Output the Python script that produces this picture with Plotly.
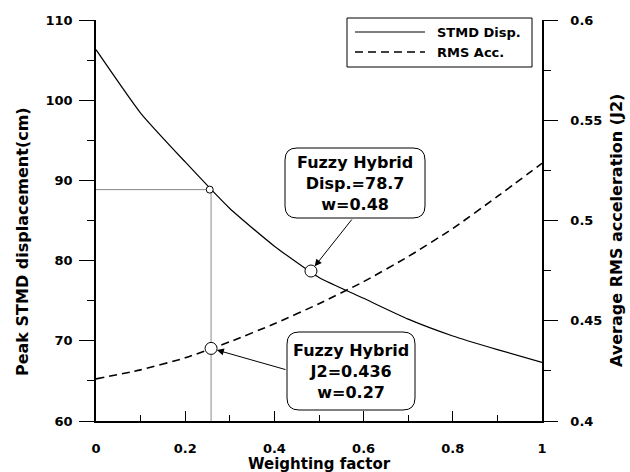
import plotly.graph_objects as go

# ---------------- data ----------------
weight = [0.0, 0.1, 0.2, 0.3, 0.4, 0.5, 0.6, 0.7, 0.8, 0.9, 1.0]
stmd_disp = [106.3, 98.4, 92.3, 86.5, 81.8, 77.9, 75.3, 72.7, 70.6, 68.9, 67.3]
rms_acc = [0.421, 0.4255, 0.4315, 0.4395, 0.4485, 0.4585, 0.4695, 0.482, 0.496, 0.512, 0.5285]

sel_w = 0.258          # chosen weighting (vertical guide)
sel_disp = 88.85       # displacement at chosen weighting
sel_j2 = 0.4362        # J2 at chosen weighting
opt_w = 0.482
opt_disp = 78.7

x_ticks = [0, 0.2, 0.4, 0.6, 0.8, 1]
y_left_range = [60, 110]
y_right_range = [0.4, 0.6]

box1_lines = ["Fuzzy Hybrid", "Disp.=78.7", "w=0.48"]
box2_lines = ["Fuzzy Hybrid", "J2=0.436", "w=0.27"]

# ---------------- layout geometry ----------------
W, H = 630, 472
ML, MR, MT, MB = 96, 88, 20, 51
PW, PH = W - ML - MR, H - MT - MB
px_x = PW / 1.0
px_y = PH / (y_left_range[1] - y_left_range[0])

FONT = "DejaVu Sans"


def rounded_box(cx, cy, wpx, hpx, rpx=12):
    hw = wpx / 2 / px_x
    hh = hpx / 2 / px_y
    rx = rpx / px_x
    ry = rpx / px_y
    x0, x1 = cx - hw, cx + hw
    y0, y1 = cy - hh, cy + hh
    path = (f"M{x0+rx},{y0} L{x1-rx},{y0} Q{x1},{y0} {x1},{y0+ry} "
            f"L{x1},{y1-ry} Q{x1},{y1} {x1-rx},{y1} L{x0+rx},{y1} "
            f"Q{x0},{y1} {x0},{y1-ry} L{x0},{y0+ry} Q{x0},{y0} {x0+rx},{y0} Z")
    return dict(type="path", xref="x", yref="y", path=path,
                line=dict(color="black", width=1), fillcolor="white", layer="above")


fig = go.Figure()

# guide lines
fig.add_trace(go.Scatter(x=[0, sel_w - 0.003], y=[sel_disp, sel_disp], mode="lines",
                         line=dict(color="#8a8a8a", width=1), showlegend=False, hoverinfo="skip"))
fig.add_trace(go.Scatter(x=[sel_w, sel_w], y=[y_left_range[0], sel_disp], mode="lines",
                         line=dict(color="#8a8a8a", width=1), showlegend=False, hoverinfo="skip"))

fig.add_trace(go.Scatter(x=weight, y=stmd_disp, mode="lines", name="STMD Disp.",
                         line=dict(color="black", width=1.2, shape="spline", smoothing=0.5),
                         showlegend=False))
fig.add_trace(go.Scatter(x=weight, y=rms_acc, mode="lines", name="RMS Acc.", yaxis="y2",
                         line=dict(color="black", width=1.6, dash="8px,5px", shape="spline", smoothing=0.5),
                         showlegend=False))

# markers
fig.add_trace(go.Scatter(x=[sel_w - 0.003], y=[sel_disp], mode="markers",
                         marker=dict(size=7, color="white", line=dict(color="black", width=1)),
                         showlegend=False))
fig.add_trace(go.Scatter(x=[opt_w], y=[opt_disp], mode="markers",
                         marker=dict(size=12, color="white", line=dict(color="black", width=1)),
                         showlegend=False))
fig.add_trace(go.Scatter(x=[sel_w], y=[sel_j2], mode="markers", yaxis="y2",
                         marker=dict(size=12, color="white", line=dict(color="black", width=1)),
                         showlegend=False))

# annotation boxes (centres in data coords)
b1_cx = (355 - ML) / px_x
b1_cy = y_left_range[0] + (H - MB - 183) / px_y
b2_cx = (351 - ML) / px_x
b2_cy = y_left_range[0] + (H - MB - 371) / px_y

shapes = [rounded_box(b1_cx, b1_cy, 140, 70), rounded_box(b2_cx, b2_cy, 128, 78)]

# manual legend (paper coords)
def pxp(px):
    return (px - ML) / PW


def pyp(py):
    return (H - MB - py) / PH


shapes.append(dict(type="rect", xref="paper", yref="paper", x0=pxp(347), x1=pxp(532),
                   y0=pyp(67), y1=pyp(18), line=dict(color="black", width=1), fillcolor="white"))
shapes.append(dict(type="line", xref="paper", yref="paper", x0=pxp(355), x1=pxp(425),
                   y0=pyp(32), y1=pyp(32), line=dict(color="black", width=1.2)))
shapes.append(dict(type="line", xref="paper", yref="paper", x0=pxp(355), x1=pxp(425),
                   y0=pyp(52), y1=pyp(52), line=dict(color="black", width=1.6, dash="8px,5px")))

bold = dict(family=FONT, size=16, color="black", weight="bold")
annotations = [
    dict(x=b1_cx, y=b1_cy, xref="x", yref="y", text="<br>".join(box1_lines), showarrow=False,
         font=bold, align="center"),
    dict(x=b2_cx, y=b2_cy, xref="x", yref="y", text="<br>".join(box2_lines), showarrow=False,
         font=bold, align="center"),
    # arrows
    dict(x=opt_w, y=opt_disp, xref="x", yref="y", ax=(353 - ML) / px_x,
         ay=b1_cy - 35 / px_y, axref="x", ayref="y", text="", showarrow=True,
         arrowhead=2, arrowsize=1.4, arrowwidth=1, arrowcolor="black", standoff=6),
    dict(x=sel_w, y=y_left_range[0] + (sel_j2 - y_right_range[0]) / (y_right_range[1] - y_right_range[0]) * 50,
         xref="x", yref="y", ax=b2_cx - 64 / px_x, ay=b2_cy + 1 / px_y, axref="x", ayref="y", text="",
         showarrow=True, arrowhead=2, arrowsize=1.4, arrowwidth=1, arrowcolor="black", standoff=6),
    # legend text
    dict(x=pxp(435), y=pyp(32), xref="paper", yref="paper", text="STMD Disp.", showarrow=False,
         xanchor="left", yanchor="middle", font=dict(family=FONT, size=13, color="black", weight="bold")),
    dict(x=pxp(435), y=pyp(52), xref="paper", yref="paper", text="RMS Acc.", showarrow=False,
         xanchor="left", yanchor="middle", font=dict(family=FONT, size=13, color="black", weight="bold")),
    # axis titles
    dict(x=0.5, y=pyp(464), xref="paper", yref="paper", text="Weighting factor", showarrow=False,
         xanchor="center", yanchor="middle", font=dict(family=FONT, size=15, color="black", weight="bold")),
    dict(x=pxp(23), y=pyp(242), xref="paper", yref="paper", text="Peak STMD displacement(cm)",
         showarrow=False, textangle=-90, xanchor="center", yanchor="middle",
         font=dict(family=FONT, size=16, color="black", weight="bold")),
    dict(x=pxp(616), y=pyp(231), xref="paper", yref="paper", text="Average RMS acceleration (J2)",
         showarrow=False, textangle=-90, xanchor="center", yanchor="middle",
         font=dict(family=FONT, size=16, color="black", weight="bold")),
]

tickfont = dict(family=FONT, size=13, color="black", weight="bold")

fig.update_layout(
    width=W, height=H,
    margin=dict(l=ML, r=MR, t=MT, b=MB),
    paper_bgcolor="white", plot_bgcolor="white",
    showlegend=False,
    shapes=shapes,
    annotations=annotations,
    xaxis=dict(range=[0, 1], tickvals=x_ticks, ticks="inside", ticklen=10, tickwidth=1,
               tickcolor="black", showline=True, linecolor="black", linewidth=1.5,
               showgrid=False, zeroline=False, tickfont=tickfont, ticklabelstandoff=15,
               minor=dict(dtick=0.1, ticks="inside", ticklen=6, tickcolor="black", showgrid=False)),
    yaxis=dict(range=y_left_range, dtick=10, ticks="outside", ticklen=15, tickwidth=1,
               tickcolor="black", showline=True, linecolor="black", linewidth=1.5,
               showgrid=False, zeroline=False, tickfont=tickfont, ticklabelstandoff=4,
               minor=dict(dtick=5, ticks="outside", ticklen=7, tickcolor="black", showgrid=False)),
    yaxis2=dict(range=y_right_range, dtick=0.05, overlaying="y", side="right", anchor="x",
                ticks="outside", ticklen=14, tickwidth=1, tickcolor="black",
                showline=True, linecolor="black", linewidth=1.5, showgrid=False, zeroline=False,
                tickfont=tickfont, ticklabelstandoff=10,
                minor=dict(dtick=0.025, ticks="outside", ticklen=7, tickcolor="black", showgrid=False)),
)

fig.write_html("out.html")
